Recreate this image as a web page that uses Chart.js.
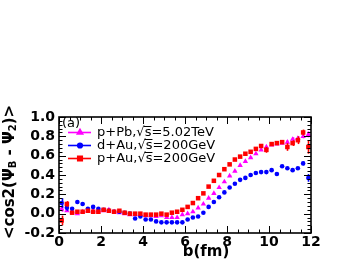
<!DOCTYPE html>
<html><head><meta charset="utf-8">
<script src="https://cdn.jsdelivr.net/npm/chart.js@4.4.0/dist/chart.umd.min.js"></script>
<style>html,body{margin:0;padding:0;background:#fff;}#wrap{width:354px;height:262px;}</style>
</head><body><div id="wrap"><canvas id="c" width="354" height="262"></canvas></div>
<script>
// impact parameter bin centres (fm)
const bins = [0.125,0.375,0.625,0.875,1.125,1.375,1.625,1.875,2.125,2.375,2.625,2.875,
  3.125,3.375,3.625,3.875,4.125,4.375,4.625,4.875,5.125,5.375,5.625,5.875,
  6.125,6.375,6.625,6.875,7.125,7.375,7.625,7.875,8.125,8.375,8.625,8.875,
  9.125,9.375,9.625,9.875,10.125,10.375,10.625,10.875,11.125,11.375,11.625,11.875];
const seriesNames = ["p+Pb,\u221As=5.02TeV","d+Au,\u221As=200GeV","p+Au,\u221As=200GeV"];
const pPb = [0.05,0.03,0.02,0.00,0.02,0.03,0.03,0.03,0.03,0.04,0.02,0.01,
  0.00,-0.01,-0.01,-0.01,-0.02,-0.02,-0.03,-0.02,-0.04,-0.04,-0.04,-0.01,
  0.00,0.02,0.06,0.10,0.16,0.21,0.27,0.33,0.39,0.44,0.50,0.54,
  0.58,0.62,0.66,0.69,0.71,0.72,0.73,0.74,0.77,0.78,0.80,0.82];
const pPbErr = [0.03,0.01,0.01,0.01,0.01,0.01,0.01,0.01,0.01,0.01,0.01,0.01,
  0.01,0.01,0.01,0.01,0.01,0.01,0.01,0.01,0.01,0.01,0.01,0.01,
  0.01,0.01,0.01,0.01,0.01,0.01,0.01,0.01,0.01,0.01,0.01,0.01,
  0.01,0.01,0.01,0.01,0.01,0.01,0.01,0.02,0.02,0.02,0.02,0.03];
const dAu = [0.11,0.06,0.05,0.12,0.10,0.05,0.07,0.05,0.04,0.03,0.02,0.02,
  0.01,0.00,-0.05,-0.03,-0.06,-0.06,-0.08,-0.09,-0.09,-0.09,-0.09,-0.09,
  -0.06,-0.04,-0.03,0.01,0.07,0.12,0.17,0.22,0.27,0.31,0.35,0.37,
  0.40,0.42,0.43,0.43,0.45,0.41,0.49,0.47,0.45,0.47,0.52,0.37];
const dAuErr = [0.05,0.03,0.01,0.01,0.01,0.01,0.01,0.01,0.01,0.01,0.01,0.01,
  0.01,0.01,0.01,0.01,0.01,0.01,0.01,0.01,0.01,0.01,0.01,0.01,
  0.01,0.01,0.01,0.01,0.01,0.01,0.01,0.01,0.01,0.01,0.01,0.01,
  0.01,0.01,0.01,0.01,0.01,0.01,0.01,0.01,0.01,0.01,0.02,0.04];
const pAu = [-0.07,0.10,0.01,0.02,0.02,0.03,0.02,0.02,0.04,0.03,0.02,0.03,
  0.01,0.00,0.00,0.00,-0.01,-0.01,-0.01,0.00,-0.01,0.01,0.02,0.04,
  0.07,0.11,0.16,0.21,0.28,0.34,0.40,0.46,0.51,0.56,0.59,0.62,
  0.64,0.67,0.70,0.66,0.72,0.73,0.74,0.69,0.73,0.76,0.84,0.69];
const pAuErr = [0.05,0.03,0.01,0.01,0.01,0.01,0.01,0.01,0.01,0.01,0.01,0.01,
  0.01,0.01,0.01,0.01,0.01,0.01,0.01,0.01,0.01,0.01,0.01,0.01,
  0.01,0.01,0.01,0.01,0.01,0.01,0.01,0.01,0.01,0.01,0.01,0.01,
  0.01,0.02,0.02,0.03,0.02,0.02,0.02,0.04,0.03,0.04,0.03,0.07];
const xTickStep = 2, yTickStep = 0.2;

const FONT = '"DejaVu Sans", sans-serif';
function pts(vals){ return vals.map((v,i)=>({x:bins[i], y:v})); }

const errPlugin = {
  id:'errbars',
  afterDatasetDraw(chart, args){
    const ds = chart.data.datasets[args.index];
    if(!ds.errs) return;
    const ctx = chart.ctx, xs = chart.scales.x, ys = chart.scales.y;
    ctx.save();
    ctx.strokeStyle = ds.borderColor; ctx.lineWidth = 1.6;
    ds.data.forEach((p,i)=>{
      const x = Math.round(xs.getPixelForValue(p.x))+0.5;
      ctx.beginPath();
      ctx.moveTo(x, ys.getPixelForValue(p.y - ds.errs[i]));
      ctx.lineTo(x, ys.getPixelForValue(p.y + ds.errs[i]));
      ctx.stroke();
    });
    ctx.restore();
  }
};

const framePlugin = {
  id:'frame',
  afterDatasetsDraw(chart){
    const ctx = chart.ctx, a = chart.chartArea, xs = chart.scales.x, ys = chart.scales.y;
    ctx.save();
    ctx.strokeStyle = '#000'; ctx.lineWidth = 1;
    ctx.beginPath();
    for(let i=0;i<=30;i++){
      const v = -0.2 + i*0.04;
      const y = Math.round(ys.getPixelForValue(v))+0.5;
      const len = (i%5===0) ? 7 : 3.5;
      ctx.moveTo(a.left, y); ctx.lineTo(a.left+len, y);
      ctx.moveTo(a.right, y); ctx.lineTo(a.right-len, y);
    }
    for(let i=0;i<=24;i++){
      const v = i*0.5;
      const x = Math.round(xs.getPixelForValue(v))+0.5;
      const len = (i%4===0) ? 7 : 3.5;
      ctx.moveTo(x, a.bottom); ctx.lineTo(x, a.bottom-len);
      ctx.moveTo(x, a.top); ctx.lineTo(x, a.top+len);
    }
    ctx.stroke();
    ctx.lineWidth = 1.6;
    ctx.strokeRect(a.left, a.top, a.right-a.left, a.bottom-a.top);
    ctx.restore();
  },
  afterDraw(chart){
    const ctx = chart.ctx;
    ctx.save();
    ctx.fillStyle = '#000';
    ctx.font = 'bold 15px ' + FONT;
    ctx.textAlign = 'center'; ctx.textBaseline = 'middle';
    ctx.fillText('b(fm)', 206, 252);
    ctx.translate(10, 172);
    ctx.rotate(-Math.PI/2);
    const segs = [['<cos2(\u03A8',15,0],['B',10,3],[' - \u03A8',15,0],['2',10,3],[')>',15,0]];
    let total = 0;
    segs.forEach(s=>{ ctx.font='bold '+s[1]+'px '+FONT; total += ctx.measureText(s[0]).width; });
    let x = -total/2;
    ctx.textAlign = 'left';
    segs.forEach(s=>{ ctx.font='bold '+s[1]+'px '+FONT; ctx.fillText(s[0], x, s[2]); x += ctx.measureText(s[0]).width; });
    ctx.restore();

    ctx.save();
    ctx.font = '13px ' + FONT;
    ctx.textBaseline = 'middle'; ctx.textAlign = 'left';
    ctx.fillStyle = '#000';
    ctx.fillText('(a)', 62, 124);
    const rows = [132.5, 145.5, 158.5];
    chart.data.datasets.forEach((ds, k)=>{
      const y = rows[k];
      ctx.strokeStyle = ds.borderColor; ctx.lineWidth = 1.6;
      ctx.beginPath(); ctx.moveTo(68, y); ctx.lineTo(91, y); ctx.stroke();
      Chart.helpers.drawPoint(ctx, {pointStyle: ds.pointStyle, radius: ds.pointRadius, borderWidth: 1}, 80, y);
      ctx.fillStyle = ds.backgroundColor; ctx.fill();
      ctx.fillStyle = '#000';
      const label = ds.label;
      ctx.fillText(label, 97, y);
      const idx = label.indexOf('\u221A');
      const pre = ctx.measureText(label.slice(0, idx+1)).width;
      const sw = ctx.measureText('s').width;
      ctx.strokeStyle = '#000'; ctx.lineWidth = 1;
      ctx.beginPath(); ctx.moveTo(97+pre-1, y-6); ctx.lineTo(97+pre+sw, y-6); ctx.stroke();
    });
    ctx.restore();
  }
};

new Chart(document.getElementById('c'), {
  type: 'scatter',
  data: { datasets: [
    { label: seriesNames[0], data: pts(pPb), errs: pPbErr, pointStyle:'triangle', pointRadius:3.1,
      backgroundColor:'#ff00ff', borderColor:'#ff00ff', borderWidth:0, order:2 },
    { label: seriesNames[1], data: pts(dAu), errs: dAuErr, pointStyle:'circle', pointRadius:2.3,
      backgroundColor:'#0000ff', borderColor:'#0000ff', borderWidth:0, order:1 },
    { label: seriesNames[2], data: pts(pAu), errs: pAuErr, pointStyle:'rect', pointRadius:3.2,
      backgroundColor:'#ff0000', borderColor:'#ff0000', borderWidth:0, order:0 }
  ]},
  options: {
    responsive:false, maintainAspectRatio:false, animation:false,
    layout:{ padding:{ top:117, right:43, left:0, bottom:0 } },
    plugins:{ legend:{display:false}, tooltip:{enabled:false} },
    elements:{ point:{ hoverRadius:0 } },
    scales:{
      x:{ type:'linear', min:0, max:12,
        grid:{display:false, drawTicks:false}, border:{display:false},
        ticks:{ stepSize:xTickStep, color:'#000', font:{family:FONT, size:14, weight:'bold'}, padding:1, maxRotation:0, autoSkip:false },
        afterFit(s){ s.height = 29; } },
      y:{ type:'linear', min:-0.2, max:1.0,
        grid:{display:false, drawTicks:false}, border:{display:false},
        ticks:{ stepSize:yTickStep, color:'#000', font:{family:FONT, size:14, weight:'bold'}, padding:4, autoSkip:false,
          callback:(v)=> (Math.abs(v)<1e-9?0:v).toFixed(1) },
        afterFit(s){ s.width = 59; } }
    }
  },
  plugins:[errPlugin, framePlugin]
});
</script></body></html>
